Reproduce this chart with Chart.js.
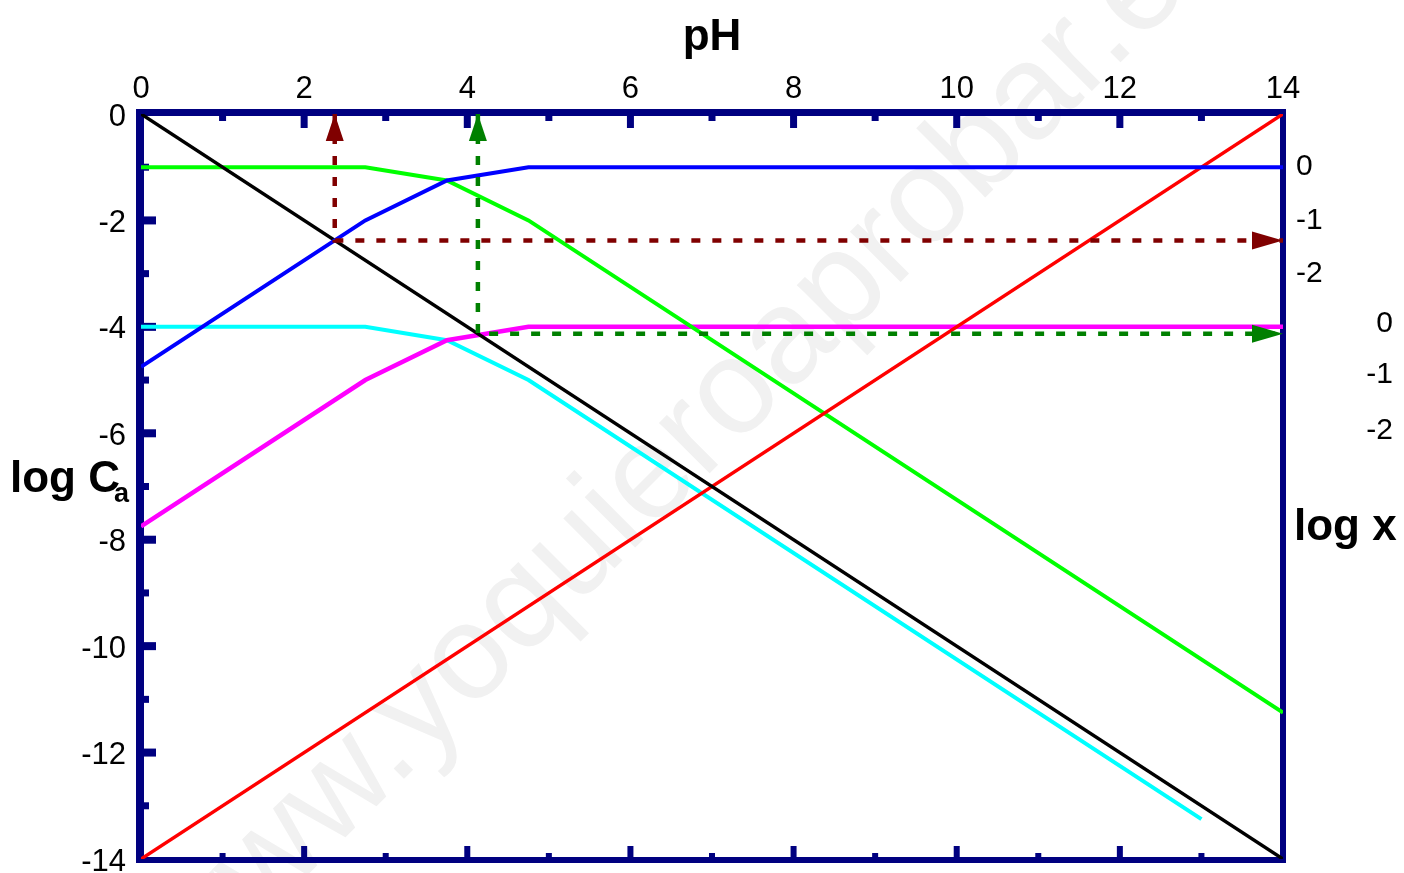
<!DOCTYPE html>
<html><head><meta charset="utf-8">
<script src="https://cdn.jsdelivr.net/npm/chart.js@4.4.1/dist/chart.umd.min.js"></script>
<style>html,body{margin:0;padding:0;background:#fff;overflow:hidden}canvas{display:block}</style>
</head><body>
<canvas id="c" width="1404" height="873"></canvas>
<script>
const FONT = '"Liberation Sans", Arial, Helvetica, sans-serif';

// tick labels
const pHTicks = [0, 2, 4, 6, 8, 10, 12, 14];
const pHMinor = [1, 3, 5, 7, 9, 11, 13];
const logCTicks = [0, -2, -4, -6, -8, -10, -12, -14];
const logCMinor = [-1, -3, -5, -7, -9, -11, -13];

// series (pH, log C)
const pH_H = [0, 14];            const logC_H = [0, -14];
const pH_OH = [0, 14];           const logC_OH = [-14, 0];
const pH_HA1 = [0, 2.75, 3.75, 4.75, 14]; const logC_HA1 = [-1, -1, -1.25, -2, -11.25];
const pH_A1  = [0, 2.75, 3.75, 4.75, 14]; const logC_A1  = [-4.75, -2, -1.25, -1, -1];
const pH_HA2 = [0, 2.75, 3.75, 4.75, 13]; const logC_HA2 = [-4, -4, -4.25, -5, -13.25];
const pH_A2  = [0, 2.75, 3.75, 4.75, 14]; const logC_A2  = [-7.75, -5, -4.25, -4, -4];
// reading guides (dashed arrows)
const pH_read1 = [2.375, 2.375, 14]; const logC_read1 = [0, -2.375, -2.375];
const pH_read2 = [4.13, 4.13, 14];   const logC_read2 = [0, -4.13, -4.13];

// right-hand "log x" labels
const logX1Labels = ['0', '-1', '-2']; const logX1At = [-1, -2, -3];
const logX2Labels = ['0', '-1', '-2']; const logX2At = [-3.95, -4.9, -5.96];

const WATERMARK = 'www.yoquieroaprobar.es';

function pts(xs, ys) { return xs.map((x, i) => ({ x: x, y: ys[i] })); }

const NAVY = '#000080';

const framePlugin = {
  id: 'frame',
  beforeDraw(chart) {
    const ctx = chart.ctx;
    ctx.save();
    ctx.fillStyle = '#fff';
    ctx.fillRect(0, 0, chart.width, chart.height);
    // watermark
    ctx.translate(690, 440);
    ctx.rotate(-Math.PI / 4);
    ctx.font = '135px ' + FONT;
    ctx.fillStyle = '#f1f1f1';
    ctx.textAlign = 'center';
    ctx.textBaseline = 'middle';
    ctx.fillText(WATERMARK, 0, 0);
    ctx.restore();
  },
  beforeDatasetsDraw(chart) {
    const ctx = chart.ctx;
    const a = chart.chartArea;
    const xs = chart.scales.x, ys = chart.scales.y;
    ctx.save();
    ctx.fillStyle = NAVY;
    // frame
    ctx.fillRect(a.left - 5, a.top - 5, 8, a.bottom - a.top + 9);          // left
    ctx.fillRect(a.left - 5, a.top - 5, a.right - a.left + 8, 7);          // top
    ctx.fillRect(a.right - 3, a.top - 5, 6, a.bottom - a.top + 9);         // right
    ctx.fillRect(a.left - 5, a.bottom - 2, a.right - a.left + 8, 6);       // bottom
    // top & bottom ticks
    pHTicks.forEach(v => {
      if (v === 0 || v === 14) return;
      const px = xs.getPixelForValue(v);
      ctx.fillRect(px - 3.5, a.top + 2, 7, 12);
      ctx.fillRect(px - 3, a.bottom - 13, 6, 12);
    });
    pHMinor.forEach(v => {
      const px = xs.getPixelForValue(v);
      ctx.fillRect(px - 3.5, a.top + 2, 7, 5);
      ctx.fillRect(px - 3, a.bottom - 6, 6, 5);
    });
    // left ticks
    logCTicks.forEach(v => {
      if (v === 0 || v === -14) return;
      const py = ys.getPixelForValue(v);
      ctx.fillRect(a.left + 3, py - 4, 12, 8);
    });
    logCMinor.forEach(v => {
      const py = ys.getPixelForValue(v);
      ctx.fillRect(a.left + 3, py - 3.5, 5, 7);
    });
    ctx.restore();
  },
  afterDatasetsDraw(chart) {
    const ctx = chart.ctx;
    ctx.save();
    chart.data.datasets.forEach((ds, i) => {
      if (!ds.arrow) return;
      const el = chart.getDatasetMeta(i).data;
      const n = el.length;
      drawHead(ctx, el[0], el[1], ds.borderColor);
      drawHead(ctx, el[n - 1], el[n - 2], ds.borderColor);
    });
    // texts
    const ys = chart.scales.y;
    ctx.fillStyle = '#000';
    ctx.textBaseline = 'alphabetic';
    ctx.textAlign = 'center';
    ctx.font = 'bold 44px ' + FONT;
    ctx.fillText('pH', 712, 50);
    ctx.textAlign = 'left';
    ctx.fillText('log C', 10, 492);
    const w = ctx.measureText('log C').width;
    ctx.font = 'bold 27px ' + FONT;
    ctx.fillText('a', 10 + w - 6, 502);
    ctx.font = 'bold 44px ' + FONT;
    ctx.fillText('log x', 1294, 540);
    ctx.font = '30px ' + FONT;
    ctx.textBaseline = 'middle';
    ctx.textAlign = 'left';
    logX1Labels.forEach((t, i) => ctx.fillText(t, 1296, ys.getPixelForValue(logX1At[i])));
    ctx.textAlign = 'right';
    logX2Labels.forEach((t, i) => ctx.fillText(t, 1393, ys.getPixelForValue(logX2At[i])));
    ctx.restore();
  }
};

function drawHead(ctx, tip, from, color) {
  const dx = tip.x - from.x, dy = tip.y - from.y;
  const d = Math.hypot(dx, dy) || 1;
  const ux = dx / d, uy = dy / d;
  const len = Math.abs(ux) > Math.abs(uy) ? 31 : 27;
  const half = 9;
  const bx = tip.x - ux * len, by = tip.y - uy * len;
  ctx.fillStyle = color;
  ctx.beginPath();
  ctx.moveTo(tip.x, tip.y);
  ctx.lineTo(bx - uy * half, by + ux * half);
  ctx.lineTo(bx + uy * half, by - ux * half);
  ctx.closePath();
  ctx.fill();
}

const common = { showLine: true, pointRadius: 0, pointHoverRadius: 0, tension: 0, fill: false };

new Chart(document.getElementById('c'), {
  type: 'scatter',
  data: {
    datasets: [
      Object.assign({ data: pts(pH_read1, logC_read1), borderColor: '#800000', borderWidth: 4.5, borderDash: [9, 12], arrow: true, clip: false }, common),
      Object.assign({ data: pts(pH_read2, logC_read2), borderColor: '#008000', borderWidth: 4.5, borderDash: [9, 12], arrow: true, clip: false }, common),
      Object.assign({ data: pts(pH_A1, logC_A1), borderColor: '#0000ff', borderWidth: 4 }, common),
      Object.assign({ data: pts(pH_H, logC_H), borderColor: '#000000', borderWidth: 3.5 }, common),
      Object.assign({ data: pts(pH_OH, logC_OH), borderColor: '#ff0000', borderWidth: 3.5 }, common),
      Object.assign({ data: pts(pH_HA1, logC_HA1), borderColor: '#00ff00', borderWidth: 4 }, common),
      Object.assign({ data: pts(pH_A2, logC_A2), borderColor: '#ff00ff', borderWidth: 4.5 }, common),
      Object.assign({ data: pts(pH_HA2, logC_HA2), borderColor: '#00ffff', borderWidth: 4 }, common)
    ]
  },
  options: {
    responsive: false,
    devicePixelRatio: 1,
    animation: false,
    events: [],
    layout: { padding: { left: 0, top: 0, right: 121, bottom: 14 } },
    plugins: { legend: { display: false }, tooltip: { enabled: false }, title: { display: false } },
    scales: {
      x: {
        type: 'linear', position: 'top', min: 0, max: 14,
        afterBuildTicks: s => { s.ticks = pHTicks.map(v => ({ value: v })); },
        ticks: { font: { family: FONT, size: 31 }, color: '#000', padding: 6, maxRotation: 0, autoSkip: false, callback: v => String(v) },
        grid: { display: false, drawTicks: false },
        border: { display: false },
        afterFit: s => { s.height = 114; s.paddingLeft = 0; s.paddingRight = 0; }
      },
      y: {
        type: 'linear', position: 'left', min: -14, max: 0,
        afterBuildTicks: s => { s.ticks = logCTicks.map(v => ({ value: v })); },
        ticks: { font: { family: FONT, size: 31 }, color: '#000', padding: 15, labelOffset: 3, autoSkip: false, callback: v => String(v) },
        grid: { display: false, drawTicks: false },
        border: { display: false },
        afterFit: s => { s.width = 141; s.paddingTop = 0; s.paddingBottom = 0; }
      }
    }
  },
  plugins: [framePlugin]
});
</script>
</body></html>
